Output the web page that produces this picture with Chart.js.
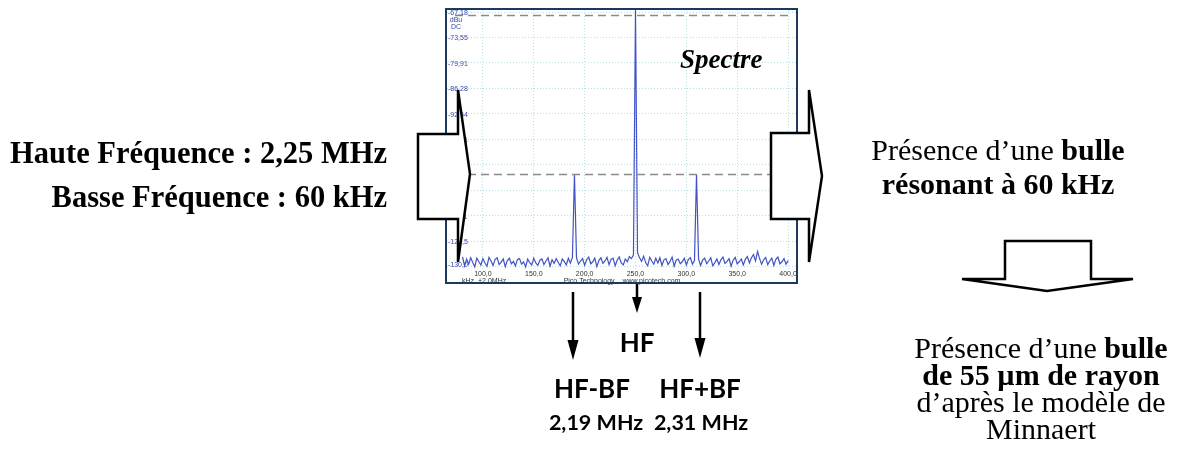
<!DOCTYPE html>
<html>
<head>
<meta charset="utf-8">
<script src="https://cdn.jsdelivr.net/npm/chart.js@4/dist/chart.umd.min.js"></script>
<style>
  body { margin: 0; background: #fff; }
  #spectre { display: block; }
</style>
</head>
<body>
<canvas id="spectre" width="1184" height="459"></canvas>
<script>
// spectrum, kHz offset from 2,0 MHz, sampled every 2 kHz from 80 to 400
var freqStart = 80;
var freqStep = 2;
var floorLevels = [
  -128.4, -130.6, -128.9, -130.2, -128.6, -129.8, -130.9, -128.7, -129.6, -130.4,
  -128.8, -129.9, -130.7, -128.5, -129.4, -130.5, -129.0, -128.6, -130.3, -129.7,
  -128.9, -130.8, -129.3, -128.7, -130.1, -129.5, -130.6, -129.0, -128.8, -130.2,
  -129.6, -130.9, -128.9, -129.8, -130.4, -128.7, -129.9, -130.5, -129.2, -128.9,
  -130.3, -129.4, -128.6, -130.7, -129.1, -130.0, -128.8, -129.7, -130.6, -128.9,
  -129.5, -130.4, -128.7, -129.9, -128.5,
  -129.0,
  -128.6, -130.2, -129.4, -128.8,
  -130.5, -129.1, -128.4, -130.1, -129.6, -128.7, -130.8, -129.3, -128.6, -130.0,
  -129.4, -128.5, -130.3, -129.0, -128.7, -130.6, -129.2, -128.4, -129.9, -130.4,
  -128.9, -129.6, -128.3, -128.8, -127.9,
  -128.0,
  -127.4, -128.6, -129.5, -128.2,
  -129.8, -130.6, -128.5, -129.4, -130.2, -128.7, -129.9, -128.6, -130.5, -129.1,
  -128.8, -130.3, -129.5, -128.4, -130.7, -129.2, -128.9, -130.1, -129.6, -128.7,
  -130.4, -129.0, -128.6, -130.2, -129.3,
  -128.5,
  -128.9, -130.5, -129.2, -128.7,
  -130.1, -129.4, -128.6, -130.6, -129.8, -128.9, -130.3, -129.1, -128.4, -130.0,
  -129.5, -128.8, -130.7, -129.2, -128.5, -130.1, -129.6, -128.9, -130.4, -129.0,
  -128.3, -129.9, -128.6, -127.8, -129.4, -127.0, -128.8, -130.2, -129.1, -128.5,
  -130.3, -129.4, -128.7, -130.5, -129.0, -128.4, -130.1, -129.6, -128.8, -130.2,
  -129.3
];
var peakFreqs = [190, 250, 310];
var peakLevels = [-107.7, -66.7, -107.7];
var markerLevels = [-67.9, -107.7];

var xTicks = [100, 150, 200, 250, 300, 350, 400];
var xTickLabels = ["100,0", "150,0", "200,0", "250,0", "300,0", "350,0", "400,0"];
var yTicks = [-67.18, -73.55, -79.91, -86.28, -92.64, -99.01, -105.4, -111.7, -118.1, -124.5, -130.9];
var yTickLabels = ["-67,18", "-73,55", "-79,91", "-86,28", "-92,64", "-99,01", "-105,4", "-111,7", "-118,1", "-124,5", "-130,0"];

var points = floorLevels.map(function (v, i) {
  var f = freqStart + i * freqStep;
  var k = peakFreqs.indexOf(f);
  return { x: f, y: k >= 0 ? peakLevels[k] : v };
});

function poly(ctx, pts) {
  ctx.beginPath();
  ctx.moveTo(pts[0][0], pts[0][1]);
  for (var i = 1; i < pts.length; i++) ctx.lineTo(pts[i][0], pts[i][1]);
  ctx.closePath();
  ctx.fillStyle = "#fff";
  ctx.fill();
  ctx.lineWidth = 2.5;
  ctx.strokeStyle = "#000";
  ctx.lineJoin = "miter";
  ctx.stroke();
}

// runs: [[text, bold], ...] centered at cx
function runs(ctx, parts, cx, y, size) {
  var total = 0;
  parts.forEach(function (p) {
    ctx.font = (p[1] ? "bold " : "") + size + "px 'Liberation Serif'";
    total += ctx.measureText(p[0]).width;
  });
  var x = cx - total / 2;
  ctx.textAlign = "left";
  parts.forEach(function (p) {
    ctx.font = (p[1] ? "bold " : "") + size + "px 'Liberation Serif'";
    ctx.fillText(p[0], x, y);
    x += ctx.measureText(p[0]).width;
  });
}

function downArrow(ctx, x, y0, y1, headLen, headW) {
  ctx.strokeStyle = "#000";
  ctx.fillStyle = "#000";
  ctx.lineWidth = 2.5;
  ctx.beginPath();
  ctx.moveTo(x, y0);
  ctx.lineTo(x, y1 - headLen + 2);
  ctx.stroke();
  ctx.beginPath();
  ctx.moveTo(x - headW / 2, y1 - headLen);
  ctx.lineTo(x + headW / 2, y1 - headLen);
  ctx.lineTo(x, y1);
  ctx.closePath();
  ctx.fill();
}

var decor = {
  id: "decor",
  afterDraw: function (chart) {
    var ctx = chart.ctx;
    var xs = chart.scales.x, ys = chart.scales.y, a = chart.chartArea;
    ctx.save();

    // marker lines
    ctx.strokeStyle = "#8a8a8a";
    ctx.lineWidth = 1.3;
    ctx.setLineDash([8, 5]);
    markerLevels.forEach(function (v) {
      var y = Math.round(ys.getPixelForValue(v)) + 0.5;
      ctx.beginPath();
      ctx.moveTo(a.left + 8, y);
      ctx.lineTo(a.right - 4, y);
      ctx.stroke();
    });
    ctx.setLineDash([]);

    // y labels inside the plot
    ctx.font = "7px 'Liberation Sans'";
    ctx.fillStyle = "#3a48a8";
    ctx.textAlign = "left";
    ctx.textBaseline = "middle";
    yTicks.forEach(function (v, i) {
      var y = ys.getPixelForValue(v);
      if (i === yTicks.length - 1) y -= 3;
      ctx.fillText(yTickLabels[i], a.left + 1, y + 1);
    });
    ctx.textAlign = "center";
    ctx.fillText("dBu", a.left + 9, 20);
    ctx.fillText("DC", a.left + 9, 27);

    // x labels and footer
    ctx.fillStyle = "#333";
    xTicks.forEach(function (v, i) {
      ctx.fillText(xTickLabels[i], xs.getPixelForValue(v), 274);
    });
    ctx.textAlign = "left";
    ctx.fillText("kHz", 462, 281);
    ctx.fillText("+2,0MHz", 478, 281);
    ctx.textAlign = "center";
    ctx.fillText("Pico Technology    www.picotech.com", 622, 281);

    // frame
    ctx.strokeStyle = "#1c3a5e";
    ctx.lineWidth = 2;
    ctx.strokeRect(446, 9, 351, 274);

    // big block arrows
    poly(ctx, [[418, 134], [458, 134], [458, 90], [470, 174], [458, 262], [458, 219], [418, 219]]);
    poly(ctx, [[771, 133], [809, 133], [809, 90], [822, 176], [809, 262], [809, 219], [771, 219]]);
    poly(ctx, [[1005, 241], [1091, 241], [1091, 279], [1133, 279], [1047, 291], [962, 279], [1005, 279]]);

    // small arrows under the spectrum
    downArrow(ctx, 637, 284, 313, 16, 10);
    downArrow(ctx, 573, 292, 360, 20, 11);
    downArrow(ctx, 700, 292, 358, 20, 11);

    // texts
    ctx.fillStyle = "#000";
    ctx.textBaseline = "alphabetic";
    ctx.textAlign = "right";
    ctx.font = "bold 30.5px 'Liberation Serif'";
    ctx.fillText("Haute Fréquence : 2,25 MHz", 387, 163);
    ctx.fillText("Basse Fréquence : 60 kHz", 387, 207);

    ctx.textAlign = "left";
    ctx.font = "italic bold 27px 'Liberation Serif'";
    ctx.fillText("Spectre", 680, 68);

    runs(ctx, [["Présence d\u2019une ", false], ["bulle", true]], 998, 160, 30);
    runs(ctx, [["résonant à 60 kHz", true]], 998, 194, 30);

    runs(ctx, [["Présence d\u2019une ", false], ["bulle", true]], 1041, 358, 30);
    runs(ctx, [["de 55 µm de rayon", true]], 1041, 385, 30);
    runs(ctx, [["d\u2019après le modèle de", false]], 1041, 412, 30);
    runs(ctx, [["Minnaert", false]], 1041, 439, 30);

    ctx.textAlign = "center";
    ctx.font = "bold 26px Lato";
    ctx.fillText("HF", 637, 352);
    ctx.fillText("HF-BF", 592, 398);
    ctx.fillText("HF+BF", 700, 398);
    ctx.font = "bold 21.5px Lato";
    ctx.fillText("2,19 MHz", 596, 430);
    ctx.fillText("2,31 MHz", 701, 430);

    ctx.restore();
  }
};

var ctx = document.getElementById("spectre").getContext("2d");
var chart = new Chart(ctx, {
  type: "line",
  data: {
    datasets: [{
      data: points,
      borderColor: "#4253c4",
      borderWidth: 1.2,
      pointRadius: 0,
      tension: 0
    }]
  },
  options: {
    responsive: false,
    animation: false,
    devicePixelRatio: 1,
    layout: { padding: { left: 447, right: 388, top: 10, bottom: 188 } },
    plugins: { legend: { display: false }, tooltip: { enabled: false } },
    scales: {
      x: {
        type: "linear",
        min: 64.7,
        max: 407.8,
        afterBuildTicks: function (axis) { axis.ticks = xTicks.map(function (v) { return { value: v }; }); },
        ticks: { display: false },
        grid: { color: "#b9e0e8", drawTicks: false, lineWidth: 1 },
        border: { display: false, dash: [1, 2] }
      },
      y: {
        type: "linear",
        min: -131.9,
        max: -66.68,
        afterBuildTicks: function (axis) { axis.ticks = yTicks.map(function (v) { return { value: v }; }); },
        ticks: { display: false },
        grid: { color: "#b9e0e8", drawTicks: false, lineWidth: 1 },
        border: { display: false, dash: [1, 2] }
      }
    }
  },
  plugins: [decor]
});
</script>
</body>
</html>
